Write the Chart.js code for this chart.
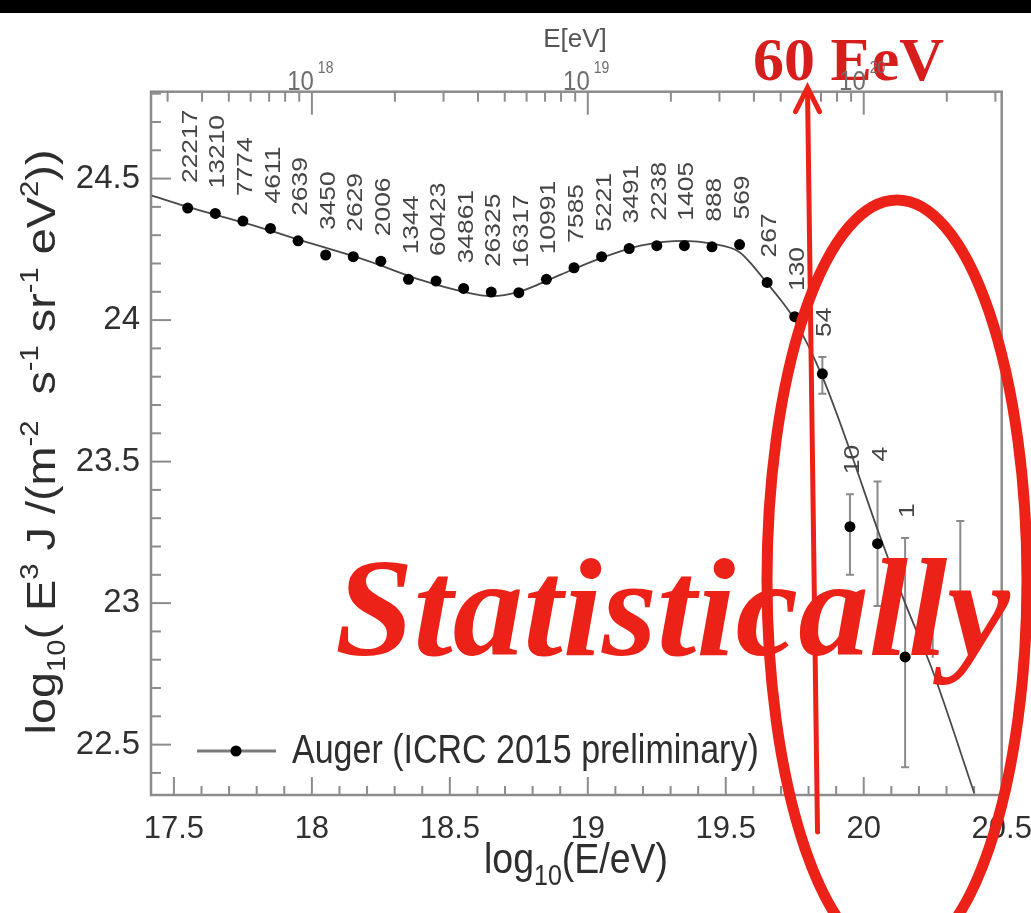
<!DOCTYPE html>
<html>
<head>
<meta charset="utf-8">
<title>Auger spectrum</title>
<script src="https://cdn.jsdelivr.net/npm/chart.js@4.4.0/dist/chart.umd.min.js"></script>
<style>
  html, body { margin: 0; padding: 0; background: #ffffff; overflow: hidden; }
  #wrap { position: relative; width: 1031px; height: 913px; }
</style>
</head>
<body>
<div id="wrap"><canvas id="spectrum"></canvas></div>
<script>
// ---- Auger combined spectrum (ICRC 2015), log10(E^3 J) per energy bin ----
const binCenters = [17.55, 17.65, 17.75, 17.85, 17.95, 18.05, 18.15, 18.25, 18.35, 18.45,
                    18.55, 18.65, 18.75, 18.85, 18.95, 19.05, 19.15, 19.25, 19.35, 19.45,
                    19.55, 19.65, 19.75, 19.85, 19.95, 20.05, 20.15];
const fluxLog = [24.396, 24.377, 24.350, 24.324, 24.280, 24.230, 24.224, 24.208, 24.144, 24.138,
                 24.112, 24.099, 24.097, 24.144, 24.185, 24.224, 24.253, 24.263, 24.263, 24.259,
                 24.267, 24.133, 24.012, 23.810, 23.270, 23.210, 22.810];
const fluxErrUp = [0.01, 0.01, 0.01, 0.01, 0.01, 0.01, 0.01, 0.01, 0.01, 0.01,
                   0.01, 0.01, 0.01, 0.01, 0.01, 0.01, 0.01, 0.01, 0.01, 0.01,
                   0.01, 0.015, 0.02, 0.06, 0.115, 0.22, 0.42];
const fluxErrDown = [0.01, 0.01, 0.01, 0.01, 0.01, 0.01, 0.01, 0.01, 0.01, 0.01,
                     0.01, 0.01, 0.01, 0.01, 0.01, 0.01, 0.01, 0.01, 0.01, 0.01,
                     0.01, 0.015, 0.02, 0.07, 0.17, 0.22, 0.39];
const eventCounts = ['22217', '13210', '7774', '4611', '2639', '3450', '2629', '2006', '1344', '60423',
                     '34861', '26325', '16317', '10991', '7585', '5221', '3491', '2238', '1405', '888',
                     '569', '267', '130', '54', '10', '4', '1'];

// upper limits in the empty highest-energy bins
const limitCenters = [20.25, 20.35];
const limitValues = [23.09, 23.29];

// fitted spectral shape
const fitLogE = [17.42, 17.55, 17.75, 18.00, 18.20, 18.40, 18.55, 18.65, 18.75, 18.90,
                 19.05, 19.20, 19.35, 19.45, 19.55, 19.60, 19.65, 19.70, 19.75, 19.85,
                 19.95, 20.05, 20.15, 20.25, 20.40];
const fitFlux = [24.44, 24.40, 24.345, 24.27, 24.21, 24.14, 24.10, 24.085, 24.10, 24.16,
                 24.22, 24.265, 24.28, 24.27, 24.24, 24.19, 24.13, 24.07, 24.00, 23.80,
                 23.54, 23.26, 23.00, 22.76, 22.33];

// axes
const xTickValues = [17.5, 18, 18.5, 19, 19.5, 20, 20.5];
const yTickValues = [22.5, 23, 23.5, 24, 24.5];
const topDecades = [18, 19, 20];
const X_MIN = 17.417, X_MAX = 20.5;
const Y_MIN = 22.322, Y_MAX = 24.807;

// annotation
const markerEnergyEeV = 60;
const markerLabel = '60 EeV';
const stampText = 'Statistically';
const legendText = 'Auger (ICRC 2015 preliminary)';

const SANS = "'Liberation Sans', Arial, Helvetica, sans-serif";
const SERIF = "'Liberation Serif', 'Times New Roman', Times, serif";
const RED = '#ec2117';
const FRAME = '#8c8c8c';

// condensed face for the axis numbers when the system has one
function fontAvailable(name) {
  const c = document.createElement('canvas').getContext('2d');
  c.font = '40px monospace';
  const base = c.measureText('18.5 mmm').width;
  c.font = "40px '" + name + "', monospace";
  return Math.abs(c.measureText('18.5 mmm').width - base) > 0.5;
}
const hasNarrow = fontAvailable('Liberation Sans Narrow');
const TICK_FAMILY = hasNarrow ? "'Liberation Sans Narrow', " + SANS : SANS;
const X_TICK_SIZE = hasNarrow ? 36 : 31;
const Y_TICK_SIZE = hasNarrow ? 40 : 33;

const points = binCenters.map((x, i) => ({ x: x, y: fluxLog[i] }));
const fitPoints = fitLogE.map((x, i) => ({ x: x, y: fitFlux[i] }));

function range(a, b, step) {
  const out = [];
  const n = Math.round((b - a) / step);
  for (let i = 0; i <= n; i++) out.push(Math.round((a + i * step) * 1000) / 1000);
  return out;
}
function isMajor(v) { return Math.abs(v * 2 - Math.round(v * 2)) < 1e-6; }

// rich text: pieces of [text, kind] where kind 0 = normal, 1 = superscript, -1 = subscript
function richWidth(ctx, pieces, big, small) {
  let w = 0;
  pieces.forEach(([t, k]) => {
    ctx.font = (k === 0 ? big : small) + 'px ' + SANS;
    w += ctx.measureText(t).width;
  });
  return w;
}
function drawRich(ctx, pieces, x0, big, small, supShift, subShift) {
  let x = x0;
  pieces.forEach(([t, k]) => {
    ctx.font = (k === 0 ? big : small) + 'px ' + SANS;
    const dy = k === 1 ? -supShift : (k === -1 ? subShift : 0);
    ctx.fillText(t, x, dy);
    x += ctx.measureText(t).width;
  });
}

// frame, inward tick marks and error bars (below the markers)
const axesPlugin = {
  id: 'axesPlugin',
  beforeDatasetsDraw(chart) {
    const { ctx, chartArea: a } = chart;
    const xs = chart.scales.x, ys = chart.scales.y, xt = chart.scales.xTop;
    ctx.save();
    ctx.strokeStyle = FRAME;
    ctx.lineWidth = 2;
    // left axis ticks
    range(22.4, 24.8, 0.1).forEach(v => {
      const y = ys.getPixelForValue(v);
      const len = isMajor(v) ? 20 : 10;
      ctx.beginPath(); ctx.moveTo(a.left, y); ctx.lineTo(a.left + len, y); ctx.stroke();
    });
    // bottom axis ticks
    range(17.5, 20.5, 0.1).forEach(v => {
      const x = xs.getPixelForValue(v);
      const len = isMajor(v) ? 18 : 9;
      ctx.beginPath(); ctx.moveTo(x, a.bottom); ctx.lineTo(x, a.bottom - len); ctx.stroke();
    });
    // top axis ticks (energy in eV, logarithmic)
    xt.ticks.forEach(t => {
      const x = xt.getPixelForValue(t.value);
      const len = t.major ? 23 : 10;
      ctx.beginPath(); ctx.moveTo(x, a.top); ctx.lineTo(x, a.top + len); ctx.stroke();
    });
    // frame
    ctx.lineWidth = 2.5;
    ctx.strokeRect(a.left, a.top, a.right - a.left, a.bottom - a.top);

    // error bars
    ctx.save();
    ctx.beginPath(); ctx.rect(a.left, a.top, a.right - a.left, a.bottom - a.top); ctx.clip();
    ctx.strokeStyle = '#8a8a8a';
    ctx.lineWidth = 2;
    points.forEach((p, i) => {
      const x = xs.getPixelForValue(p.x);
      const y1 = ys.getPixelForValue(p.y + fluxErrUp[i]);
      const y2 = ys.getPixelForValue(p.y - fluxErrDown[i]);
      if (y2 - y1 < 12) return;
      ctx.beginPath();
      ctx.moveTo(x, y1); ctx.lineTo(x, y2);
      ctx.moveTo(x - 4, y1); ctx.lineTo(x + 4, y1);
      ctx.moveTo(x - 4, y2); ctx.lineTo(x + 4, y2);
      ctx.stroke();
    });
    limitCenters.forEach((c, i) => {
      const x = xs.getPixelForValue(c);
      const y = ys.getPixelForValue(limitValues[i]);
      ctx.beginPath();
      ctx.moveTo(x - 4, y); ctx.lineTo(x + 4, y);
      ctx.moveTo(x, y); ctx.lineTo(x, y + 80);
      ctx.stroke();
    });
    ctx.restore();
    ctx.restore();
  },
  afterDatasetsDraw(chart) {
    const { ctx } = chart;
    const xs = chart.scales.x, ys = chart.scales.y;
    ctx.save();
    // event counts above each bin
    ctx.fillStyle = '#454545';
    ctx.font = '22px ' + SANS;
    ctx.textAlign = 'left';
    ctx.textBaseline = 'middle';
    points.forEach((p, i) => {
      const x = xs.getPixelForValue(p.x) + 3;
      const yDot = ys.getPixelForValue(p.y);
      const yTop = ys.getPixelForValue(p.y + fluxErrUp[i]);
      const anchor = Math.min(yDot - 5, yTop) - 20;
      ctx.save();
      ctx.translate(x, anchor);
      ctx.rotate(-Math.PI / 2);
      ctx.scale(1.2, 1);
      ctx.fillText(eventCounts[i], 0, 0);
      ctx.restore();
    });

    // legend
    const ly = 751;
    ctx.strokeStyle = '#7a7a7a';
    ctx.lineWidth = 3;
    ctx.beginPath(); ctx.moveTo(197, ly); ctx.lineTo(276, ly); ctx.stroke();
    ctx.fillStyle = '#000';
    ctx.beginPath(); ctx.arc(236, ly, 5.5, 0, Math.PI * 2); ctx.fill();
    ctx.fillStyle = '#2e2e2e';
    ctx.font = '34px ' + SANS;
    ctx.textBaseline = 'middle';
    ctx.save();
    ctx.translate(292, ly + 1);
    ctx.scale(1, 1.2);
    ctx.fillText(legendText, 0, 0);
    ctx.restore();
    ctx.restore();
  },
  afterDraw(chart) {
    const { ctx, chartArea: a } = chart;
    const xs = chart.scales.x, xt = chart.scales.xTop;
    ctx.save();

    // axis titles
    ctx.fillStyle = '#2e2e2e';
    ctx.textBaseline = 'alphabetic';
    ctx.textAlign = 'left';
    const yTitle = [['log', 0], ['10', -1], ['( E', 0], ['3', 1], [' J /(m', 0], ['-2', 1],
                    ['  s', 0], ['-1', 1], [' sr', 0], ['-1', 1], [' eV', 0], ['2', 1], ['))', 0]];
    const wy = richWidth(ctx, yTitle, 40, 25);
    ctx.save();
    ctx.translate(55, 442);
    ctx.rotate(-Math.PI / 2);
    ctx.scale(585 / wy, 1);
    drawRich(ctx, yTitle, -wy / 2, 40, 25, 17, 10);
    ctx.restore();

    const xTitle = [['log', 0], ['10', -1], ['(E/eV)', 0]];
    const wx = richWidth(ctx, xTitle, 36, 24);
    ctx.save();
    ctx.translate(576, 873);
    ctx.scale(184 / wx, 1.2);
    drawRich(ctx, xTitle, -wx / 2, 36, 24, 14, 10);
    ctx.restore();

    // top axis title
    ctx.fillStyle = '#555';
    ctx.font = '26px ' + SANS;
    ctx.textAlign = 'center';
    ctx.fillText('E[eV]', 575, 47);

    // red annotations
    const mx = xs.getPixelForValue(Math.log10(markerEnergyEeV * 1e18));
    ctx.fillStyle = '#d61f1d';
    ctx.font = 'bold 62px ' + SERIF;
    ctx.textAlign = 'left';
    ctx.fillText(markerLabel, 753, 80);

    ctx.strokeStyle = RED;
    ctx.lineWidth = 5;
    ctx.lineCap = 'round';
    ctx.beginPath();
    ctx.moveTo(mx + 5, a.top - 2);
    ctx.lineTo(mx + 15, 832);
    ctx.stroke();
    ctx.beginPath();
    ctx.moveTo(mx - 7, a.top + 20);
    ctx.lineTo(mx + 5, a.top - 4);
    ctx.lineTo(mx + 17, a.top + 20);
    ctx.stroke();

    ctx.fillStyle = RED;
    ctx.font = 'italic bold 140px ' + SERIF;
    const sw = ctx.measureText(stampText).width;
    ctx.save();
    ctx.translate(335, 655);
    ctx.scale(675 / sw, 1);
    ctx.fillText(stampText, 0, 0);
    ctx.restore();

    ctx.strokeStyle = RED;
    ctx.lineWidth = 11;
    ctx.beginPath();
    ctx.ellipse(897, 580, 130, 380, 0, 0, Math.PI * 2);
    ctx.stroke();

    // top axis labels 10^n
    ctx.fillStyle = '#6e6e6e';
    ctx.textAlign = 'left';
    topDecades.forEach(n => {
      const x = xt.getPixelForValue(n);
      ctx.font = '24px ' + SANS;
      const w1 = ctx.measureText('10').width;
      ctx.save();
      ctx.translate(x - w1 + 2, 90);
      ctx.scale(1, 1.15);
      ctx.fillText('10', 0, 0);
      ctx.font = '14px ' + SANS;
      ctx.fillText(String(n), w1 + 4, -15);
      ctx.restore();
    });

    // band along the top edge
    ctx.fillStyle = '#000';
    ctx.fillRect(0, 0, chart.width, 13);
    ctx.restore();
  }
};

new Chart(document.getElementById('spectrum'), {
  type: 'scatter',
  data: {
    datasets: [
      {
        label: 'fit',
        data: fitPoints,
        showLine: true,
        borderColor: '#4a4a4a',
        borderWidth: 1.8,
        pointRadius: 0,
        tension: 0.4,
        cubicInterpolationMode: 'monotone',
        order: 2
      },
      {
        label: legendText,
        data: points,
        showLine: false,
        pointRadius: 5.5,
        pointBackgroundColor: '#000',
        pointBorderWidth: 0,
        order: 1
      }
    ]
  },
  options: {
    responsive: true,
    maintainAspectRatio: false,
    animation: false,
    layout: { padding: { left: 0, right: 29.3, top: 0, bottom: 0 } },
    plugins: { legend: { display: false }, tooltip: { enabled: false } },
    scales: {
      x: {
        type: 'linear', position: 'bottom', min: X_MIN, max: X_MAX,
        afterBuildTicks: s => { s.ticks = xTickValues.map(v => ({ value: v })); },
        afterFit: s => { s.height = 118; s.paddingLeft = 0; s.paddingRight = 0; },
        grid: { display: false, drawTicks: false },
        border: { display: false },
        ticks: { font: { family: TICK_FAMILY, size: X_TICK_SIZE }, color: '#303030',
                 padding: hasNarrow ? 14 : 16, maxRotation: 0, autoSkip: false,
                 callback: v => String(v) }
      },
      xTop: {
        type: 'linear', axis: 'x', position: 'top', min: X_MIN, max: X_MAX,
        afterBuildTicks: s => {
          const t = [];
          for (let n = 17; n <= 20; n++) {
            for (let k = 1; k <= 9; k++) {
              const v = n + Math.log10(k);
              if (v >= X_MIN && v <= X_MAX) t.push({ value: v, major: k === 1 });
            }
          }
          s.ticks = t;
        },
        afterFit: s => { s.height = 91.7; s.paddingLeft = 0; s.paddingRight = 0; },
        grid: { display: false, drawTicks: false },
        border: { display: false },
        ticks: { display: false }
      },
      y: {
        type: 'linear', position: 'left', min: Y_MIN, max: Y_MAX,
        afterBuildTicks: s => { s.ticks = yTickValues.map(v => ({ value: v })); },
        afterFit: s => { s.width = 151; s.paddingTop = 0; s.paddingBottom = 0; },
        grid: { display: false, drawTicks: false },
        border: { display: false },
        ticks: { font: { family: TICK_FAMILY, size: Y_TICK_SIZE }, color: '#303030', padding: 11,
                 callback: v => String(v) }
      }
    }
  },
  plugins: [axesPlugin]
});
</script>
</body>
</html>
